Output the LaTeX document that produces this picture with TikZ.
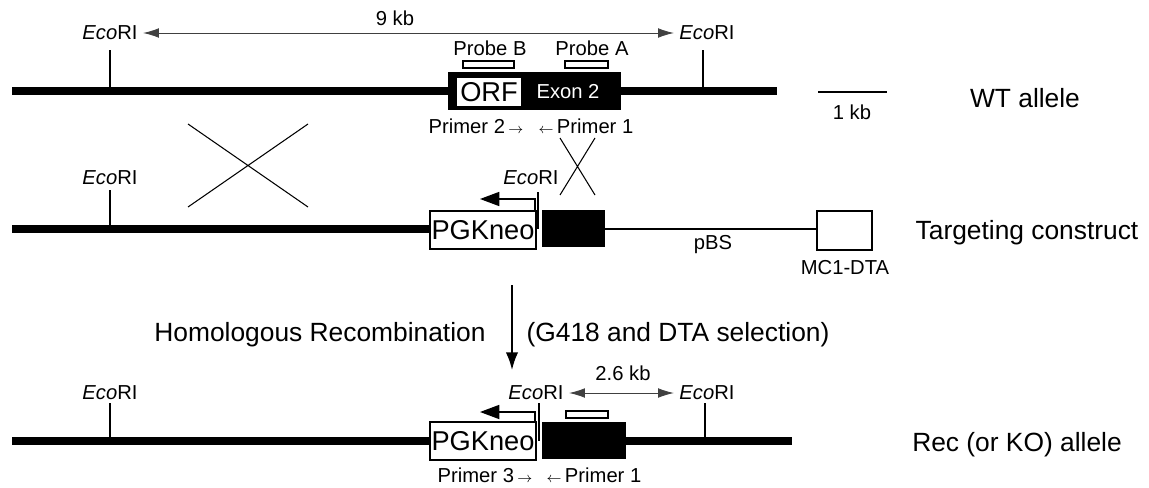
\documentclass[tikz,border=0pt]{standalone}
\usepackage{fontspec}
\setmainfont{Liberation Sans}
\usetikzlibrary{arrows.meta,positioning,calc}

\tikzset{
  dna/.style={line width=4.5pt},
  site/.style={line width=0.8pt},
  lbl/.style={font=\fontsize{11.5}{13}\selectfont, inner sep=0pt},
  big/.style={font=\fontsize{15}{18}\selectfont, inner sep=0pt},
  gene/.style={font=\fontsize{15.5}{18}\selectfont, inner sep=0pt},
  boxline/.style={line width=0.7pt},
  promoter/.style={line width=0.9pt, -{Triangle[length=11pt,width=8pt]}},
  span/.style={line width=0.5pt, draw=black!75, {Latex[length=9pt,width=5.5pt]}-{Latex[length=9pt,width=5.5pt]}, shorten <=3pt, shorten >=3pt},
}

\begin{document}
\begin{tikzpicture}[x=0.2mm,y=-0.2mm]
    \useasboundingbox (0,0) rectangle (1149,487);
    % WT allele
    \draw[dna] (12,91) -- (777,91);
    \draw[site] (110,50) -- (110,91);
    \draw[site] (703,50) -- (703,91);
    \node[lbl] (wtEcoL) at (110,33) {\textit{Eco}RI};
    \node[lbl] (wtEcoR) at (707,33) {\textit{Eco}RI};
    \draw[span] (wtEcoL) -- (wtEcoR);
    \node[lbl] (wtSpan) at (395,18) {9 kb};
    \fill (448,72) rectangle (621,110);
    \draw[fill=white,boxline] (456,77) rectangle (522,107);
    \node[gene] (orf) at (489,92) {ORF};
    \node[lbl,white] (exonTwo) at (568,92) {Exon 2};
    \draw[fill=white,boxline] (463,61) rectangle (514,68);
    \draw[fill=white,boxline] (565,61) rectangle (608,68);
    \node[lbl] (probeB) at (490,48) {Probe B};
    \node[lbl] (probeA) at (592,48) {Probe A};
    \node[lbl] (primerTwo) at (476,126) {Primer 2\,$\scriptstyle\rightarrow$};
    \node[lbl] (primerOne) at (586,126) {$\scriptstyle\leftarrow$\,Primer 1};
    % scale bar
    \draw[site] (818,92) -- (887,92);
    \node[lbl] (scaleLbl) at (852,112) {1 kb};
    \node[big] (wtLbl) at (1025,98) {WT allele};
    % crossovers
    \draw[line width=0.6pt] (188,124) -- (308,207) (308,124) -- (188,207);
    \draw[line width=0.6pt] (560,138) -- (595,195) (595,138) -- (560,195);
    % targeting construct
    \draw[dna] (12,229) -- (430,229);
    \draw[site] (110,190) -- (110,229);
    \node[lbl] (tcEcoL) at (110,178) {\textit{Eco}RI};
    \draw[site] (538,192) -- (538,229);
    \node[lbl] (tcEcoM) at (531,178) {\textit{Eco}RI};
    \draw[fill=white,boxline] (430,211) rectangle (536,249);
    \node[gene] (tcNeo) at (483,230) {PGKneo};
    \draw[promoter] (535,211) -- (535,199) -- (480,199);
    \fill (542,210) rectangle (605,247);
    \draw[line width=0.7pt] (605,229) -- (817,229);
    \draw[fill=white,line width=0.8pt] (817,211) rectangle (872,250);
    \node[lbl] (pbs) at (713,245) {pBS};
    \node[lbl] (dta) at (845,268) {MC1-DTA};
    \node[big] (tcLbl) at (1027,233) {Targeting construct};
    % recombination step
    \draw[line width=1pt,-{Latex[length=10pt,width=7pt]}] (512,285) -- (512,370);
    \node[big] (homRec) at (320,335) {Homologous Recombination};
    \node[big] (selection) at (678,335) {(G418 and DTA selection)};
    % Rec (KO) allele
    \draw[dna] (12,441) -- (430,441);
    \draw[dna] (626,441) -- (792,441);
    \draw[site] (110,403) -- (110,441);
    \node[lbl] (koEcoL) at (110,393) {\textit{Eco}RI};
    \draw[site] (539,403) -- (539,441);
    \draw[site] (705,403) -- (705,441);
    \node[lbl] (koEcoM) at (536,393) {\textit{Eco}RI};
    \node[lbl] (koEcoR) at (707,393) {\textit{Eco}RI};
    \draw[span] (koEcoM) -- (koEcoR);
    \node[lbl] (koSpan) at (623,373) {2.6 kb};
    \draw[fill=white,boxline] (430,422) rectangle (536,460);
    \node[gene] (koNeo) at (483,441) {PGKneo};
    \draw[promoter] (535,422) -- (535,412) -- (480,412);
    \fill (542,422) rectangle (626,459);
    \draw[fill=white,boxline] (566,411) rectangle (608,418);
    \node[lbl] (primerThree) at (485,475) {Primer 3\,$\scriptstyle\rightarrow$};
    \node[lbl] (primerOneKo) at (594,475) {$\scriptstyle\leftarrow$\,Primer 1};
    \node[big] (koLbl) at (1017,445) {Rec (or KO) allele};
\end{tikzpicture}
\end{document}
